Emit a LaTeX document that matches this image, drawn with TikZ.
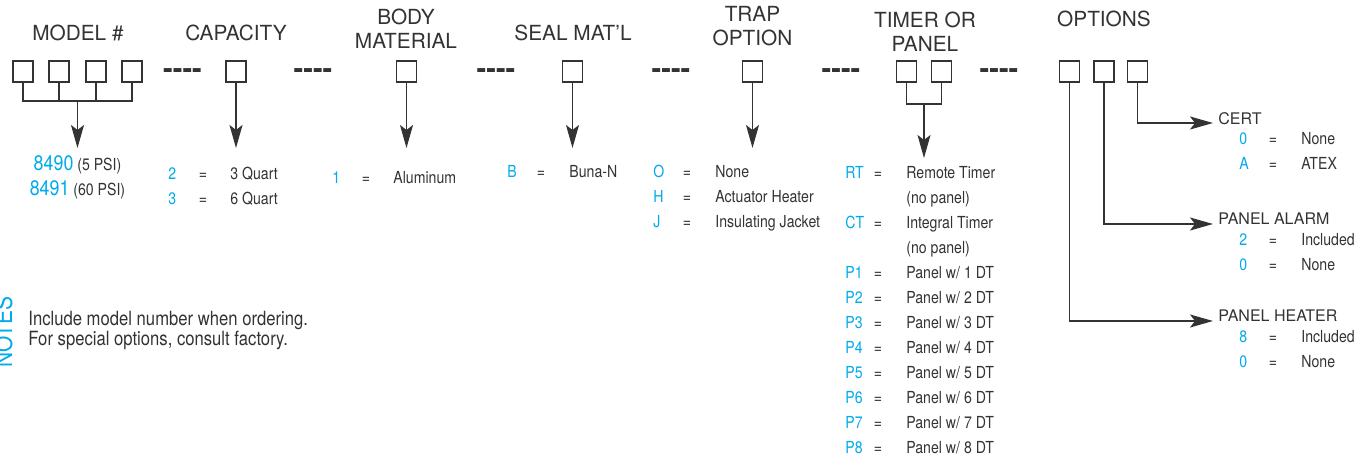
\documentclass[tikz,border=0pt]{standalone}
\usepackage{fontspec}
\setmainfont{TeX Gyre Heros}
\newfontfamily\condfont[FakeStretch=0.85]{TeX Gyre Heros}
\usepackage{xcolor}
\usetikzlibrary{arrows.meta}

\definecolor{codeblue}{RGB}{0,170,235}
\definecolor{ink}{RGB}{51,51,51}

\begin{document}
\begin{tikzpicture}[x=0.5pt,y=-0.5pt,
    head/.style={font=\fontsize{10.4}{12}\selectfont, text=ink, align=center, inner sep=0pt},
    subhead/.style={font=\fontsize{8}{9.6}\selectfont, text=ink, anchor=west, inner sep=0pt},
    digit/.style={draw=ink, line width=0.75pt, minimum width=10pt, minimum height=10.5pt, inner sep=0pt},
    gap/.style={font=\bfseries\fontsize{14.5}{14.5}\selectfont, text=ink, inner sep=0pt, anchor=base},
    code/.style={font=\condfont\fontsize{8.3}{10}\selectfont, text=codeblue, anchor=west, inner sep=0pt, text height=6pt, text depth=0pt},
    equals/.style={font=\condfont\fontsize{8.3}{10}\selectfont, text=ink, inner sep=0pt, text height=6pt, text depth=0pt},
    meaning/.style={equals, anchor=west},
    link/.style={draw=ink, line width=0.65pt},
    pointer/.style={link, -{Stealth[length=11.5pt, width=6.5pt, inset=2.5pt]}}]
  \useasboundingbox (0,0) rectangle (1366,458);

  % headings
  \node[head] (modelhd) at (78,33) {MODEL \#};
  \node[head] (caphd) at (236,33) {CAPACITY};
  \node[head] (bodyhd) at (406,29) {BODY\\MATERIAL};
  \node[head] (sealhd) at (573,32.5) {SEAL MAT'L};
  \node[head] (traphd) at (752.5,26) {TRAP\\OPTION};
  \node[head] (timerhd) at (925,32) {TIMER OR\\PANEL};
  \node[head] (opthd) at (1104,19) {OPTIONS};

  % code boxes
  \node[digit] (m1) at (23,71.5) {};
  \node[digit] (m2) at (59,71.5) {};
  \node[digit] (m3) at (96,71.5) {};
  \node[digit] (m4) at (132,71.5) {};
  \node[digit] (cap) at (236,71.5) {};
  \node[digit] (body) at (406.5,71.5) {};
  \node[digit] (seal) at (572.5,71.5) {};
  \node[digit] (trap) at (752.5,71.5) {};
  \node[digit] (tim1) at (906.5,71.5) {};
  \node[digit] (tim2) at (941.5,71.5) {};
  \node[digit] (opt1) at (1069.5,71.5) {};
  \node[digit] (opt2) at (1104,71.5) {};
  \node[digit] (opt3) at (1137.5,71.5) {};

  % separators
  \node[gap] (gap1) at (182.5,79) {-{}-{}-{}-};
  \node[gap] (gap2) at (313,79) {-{}-{}-{}-};
  \node[gap] (gap3) at (496,79) {-{}-{}-{}-};
  \node[gap] (gap4) at (671,79) {-{}-{}-{}-};
  \node[gap] (gap5) at (841,79) {-{}-{}-{}-};
  \node[gap] (gap6) at (999,79) {-{}-{}-{}-};

  % connectors
  \coordinate (mbar) at (77.5,101);
  \coordinate (tips) at (0,148);
  \coordinate (tbar) at (924,104);
  \coordinate (ttip) at (924,158);
  \draw[link] (m1.south) |- (mbar) -| (m4.south);
  \draw[link] (m2.south) -- (m2.south |- mbar);
  \draw[link] (m3.south) -- (m3.south |- mbar);
  \draw[pointer] (mbar) -- (mbar |- tips);
  \draw[pointer] (cap.south) -- (cap.south |- tips);
  \draw[pointer] (body.south) -- (body.south |- tips);
  \draw[pointer] (seal.south) -- (seal.south |- tips);
  \draw[pointer] (trap.south) -- (trap.south |- tips);
  \draw[link] (tim1.south) |- (tbar) -| (tim2.south);
  \draw[pointer] (tbar) -- (ttip);
  \coordinate (certtip) at (1213,123);
  \coordinate (alarmtip) at (1213,224);
  \coordinate (heattip) at (1213,321);
  \draw[pointer] (opt3.south) |- (certtip);
  \draw[pointer] (opt2.south) |- (alarmtip);
  \draw[pointer] (opt1.south) |- (heattip);

  % model
  \node[font=\condfont\fontsize{8.3}{12.5}\selectfont, text=ink, align=center, anchor=north, inner sep=0pt] (modelcodes) at (77.5,155)
    {{\fontsize{10.5}{12.5}\selectfont\color{codeblue}8490} (5 PSI)\\{\fontsize{10.5}{12.5}\selectfont\color{codeblue}8491} (60 PSI)};

  % capacity
  \node[code] (cap2) at (168,174) {2}; \node[equals] (capeq2) at (203,174) {=}; \node[meaning] (capq3) at (230,174) {3 Quart};
  \node[code] (cap3) at (168,199) {3}; \node[equals] (capeq3) at (203,199) {=}; \node[meaning] (capq6) at (230,199) {6 Quart};

  % body material
  \node[code] (body1) at (332,178) {1}; \node[equals] (bodyeq1) at (366,178) {=}; \node[meaning] (bodyal) at (393,178) {Aluminum};

  % seal material
  \node[code] (sealb) at (507,172) {B}; \node[equals] (sealeqb) at (541,172) {=}; \node[meaning] (sealbn) at (569,172) {Buna-N};

  % trap option
  \node[code] (trapo) at (653,172) {O}; \node[equals] (trapeqo) at (687,172) {=}; \node[meaning] (trapno) at (715,172) {None};
  \node[code] (traph) at (653,197) {H}; \node[equals] (trapeqh) at (687,197) {=}; \node[meaning] (trapah) at (715,197) {Actuator Heater};
  \node[code] (trapj) at (653,222) {J}; \node[equals] (trapeqj) at (687,222) {=}; \node[meaning] (trapij) at (715,222) {Insulating Jacket};

  % timer or panel
  \node[code] (rt) at (845,173) {RT}; \node[equals] (rteq) at (878,173) {=}; \node[meaning] (rtt) at (906,173) {Remote Timer};
  \node[meaning] (rtn) at (906,198) {(no panel)};
  \node[code] (ct) at (845,223) {CT}; \node[equals] (cteq) at (878,223) {=}; \node[meaning] (ctt) at (906,223) {Integral Timer};
  \node[meaning] (ctn) at (906,248) {(no panel)};
  \foreach \n/\yy in {1/273,2/298,3/323,4/348,5/373,6/398,7/423,8/448} {
    \node[code] (p\n) at (845,\yy) {P\n};
    \node[equals] (peq\n) at (878,\yy) {=};
    \node[meaning] (pt\n) at (906,\yy) {Panel w/ \n{} DT};
  }

  % options
  \node[subhead] (cert) at (1218,118.5) {CERT};
  \node[code] (cert0) at (1239,139) {0}; \node[equals] (certeq0) at (1273,139) {=}; \node[meaning] (certno) at (1301,139) {None};
  \node[code] (certa) at (1239,164) {A}; \node[equals] (certeqa) at (1273,164) {=}; \node[meaning] (certat) at (1301,164) {ATEX};
  \node[subhead] (alarm) at (1218,219) {PANEL ALARM};
  \node[code] (alarm2) at (1239,240) {2}; \node[equals] (alarmeq2) at (1273,240) {=}; \node[meaning] (alarmin) at (1301,240) {Included};
  \node[code] (alarm0) at (1239,265) {0}; \node[equals] (alarmeq0) at (1273,265) {=}; \node[meaning] (alarmno) at (1301,265) {None};
  \node[subhead] (heat) at (1218,316) {PANEL HEATER};
  \node[code] (heat8) at (1239,337) {8}; \node[equals] (heateq8) at (1273,337) {=}; \node[meaning] (heatin) at (1301,337) {Included};
  \node[code] (heat0) at (1239,362) {0}; \node[equals] (heateq0) at (1273,362) {=}; \node[meaning] (heatno) at (1301,362) {None};

  % notes
  \node[font=\condfont\fontsize{12.3}{14}\selectfont, text=codeblue, rotate=90, anchor=base, inner sep=0pt] (notestag) at (12,332) {NOTES};
  \node[font=\condfont\fontsize{9.8}{10}\selectfont, text=ink, align=left, anchor=north west, inner sep=0pt] (notes) at (28,311)
    {Include model number when ordering.\\For special options, consult factory.};
\end{tikzpicture}
\end{document}
